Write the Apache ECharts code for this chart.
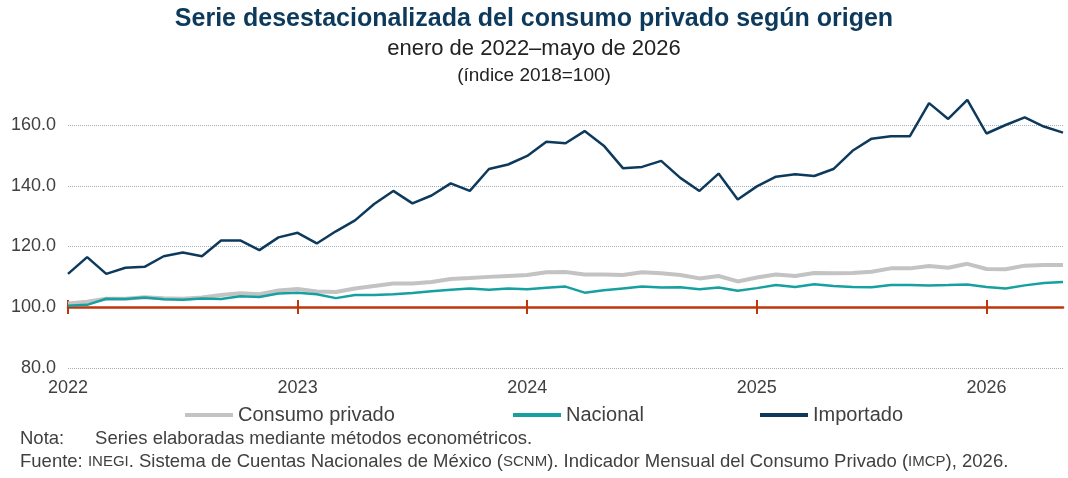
<!DOCTYPE html>
<html>
<head>
<meta charset="utf-8">
<script src="https://cdn.jsdelivr.net/npm/echarts@6/dist/echarts.min.js"></script>
<style>html,body{margin:0;padding:0;background:#fff}#main{width:1068px;height:478px}</style>
</head>
<body>
<div id="main"></div>
<script>
// ene 2022 – may 2026, índice 2018=100
var years = ['2022', '2023', '2024', '2025', '2026'];
var consumo = [101.2,101.8,102.8,102.8,103.3,103,102.8,103.2,104,104.6,104.3,105.5,
  106,105.2,105,106.2,107,107.8,107.8,108.3,109.3,109.6,110,110.3,
  110.6,111.5,111.6,110.8,110.8,110.6,111.5,111.2,110.6,109.5,110.3,108.5,
  109.8,110.8,110.3,111.3,111.2,111.3,111.7,112.8,112.8,113.6,113,114.3,
  112.6,112.5,113.7,113.9,113.9];
var nacional = [100.5,100.8,102.8,102.7,103.2,102.6,102.5,102.9,102.7,103.6,103.4,104.5,
  104.8,104.3,103,104,104,104.3,104.7,105.3,105.8,106.2,105.8,106.2,
  105.9,106.4,106.8,104.8,105.6,106.2,106.8,106.5,106.6,105.9,106.5,105.4,
  106.3,107.3,106.7,107.6,107,106.7,106.6,107.3,107.3,107.2,107.3,107.5,
  106.7,106.2,107.2,108,108.3];
var importado = [111,116.5,111,113,113.3,116.8,118,116.8,122,122,118.8,123,
  124.5,121,125,128.6,134,138.3,134.2,136.8,140.8,138.3,145.5,147,
  149.8,154.5,154,158,153.2,145.8,146.2,148.2,142.6,138.3,144,135.5,
  139.8,143,143.8,143.2,145.5,151.5,155.5,156.3,156.3,167.2,162,168.3,
  157.2,160,162.5,159.5,157.5];

var months = consumo.map(function (v, i) { return i; });
function yearLabel(i) { return i % 12 === 0 ? years[i / 12] : ''; }

var chart = echarts.init(document.getElementById('main'));
var ff = 'Liberation Sans, Arial, sans-serif';
chart.setOption({
  animation: false,
  textStyle: { fontFamily: ff },
  title: [
    { text: 'Serie desestacionalizada del consumo privado según origen', left: 'center', top: 2,
      textStyle: { fontSize: 25, fontWeight: 'bold', color: '#0d3a5c' } },
    { text: 'enero de 2022–mayo de 2026', left: 'center', top: 33,
      textStyle: { fontSize: 22, fontWeight: 'normal', color: '#222' } },
    { text: '(índice 2018=100)', left: 'center', top: 61,
      textStyle: { fontSize: 19, fontWeight: 'normal', color: '#222' } }
  ],
  legend: [
    { data: ['Consumo privado'], left: 180, top: 400 },
    { data: ['Nacional'], left: 508, top: 400 },
    { data: ['Importado'], left: 755, top: 400 }
  ].map(function (l) {
    l.itemWidth = 48; l.itemHeight = 4; l.icon = 'rect';
    l.textStyle = { fontSize: 20, color: '#404040' };
    return l;
  }),
  grid: { left: 68, right: 5, top: 125, bottom: 110 },
  xAxis: [
    { type: 'category', data: months, boundaryGap: false,
      axisLine: { show: false }, axisTick: { show: false },
      axisLabel: { formatter: function (v, i) { return yearLabel(i); }, interval: 0,
        fontSize: 18, color: '#404040', margin: 11 } },
    { type: 'category', data: months, boundaryGap: false, position: 'bottom', offset: -61,
      axisLine: { lineStyle: { color: '#c0360c', width: 2.5 } },
      axisTick: { interval: function (i) { return i % 12 === 0; }, length: 7, lineStyle: { color: '#c0360c', width: 2 } },
      axisLabel: { show: false } },
    { type: 'category', data: months, boundaryGap: false, position: 'bottom', offset: -61,
      axisLine: { show: false },
      axisTick: { inside: true, interval: function (i) { return i % 12 === 0; }, length: 7, lineStyle: { color: '#c0360c', width: 2 } },
      axisLabel: { show: false } }
  ],
  yAxis: { type: 'value', min: 80, max: 160, interval: 20,
    axisLabel: { formatter: function (v) { return v.toFixed(1); }, fontSize: 18, color: '#404040', margin: 12 },
    splitLine: { lineStyle: { type: 'dotted', color: '#a4b0bc' } } },
  series: [
    { name: 'Consumo privado', type: 'line', data: consumo, symbol: 'none', clip: false,
      lineStyle: { color: '#c3c3c3', width: 4 }, itemStyle: { color: '#c3c3c3' } },
    { name: 'Nacional', type: 'line', data: nacional, symbol: 'none', clip: false,
      lineStyle: { color: '#17a0a0', width: 2.5 }, itemStyle: { color: '#17a0a0' } },
    { name: 'Importado', type: 'line', data: importado, symbol: 'none', clip: false,
      lineStyle: { color: '#0d3a5c', width: 2.5 }, itemStyle: { color: '#0d3a5c' } }
  ],
  graphic: [
    { type: 'text', left: 20, top: 429, style: { text: 'Nota:      Series elaboradas mediante métodos econométricos.',
      font: '18.5px ' + ff, fill: '#404040' } },
    { type: 'text', left: 20, top: 452, style: {
      text: 'Fuente: {s|INEGI}. Sistema de Cuentas Nacionales de México ({s|SCNM}). Indicador Mensual del Consumo Privado ({s|IMCP}), 2026.',
      font: '18.5px ' + ff, fill: '#404040', rich: { s: { fontSize: 15, fill: '#404040', fontFamily: ff } } } }
  ]
});
</script>
</body>
</html>
